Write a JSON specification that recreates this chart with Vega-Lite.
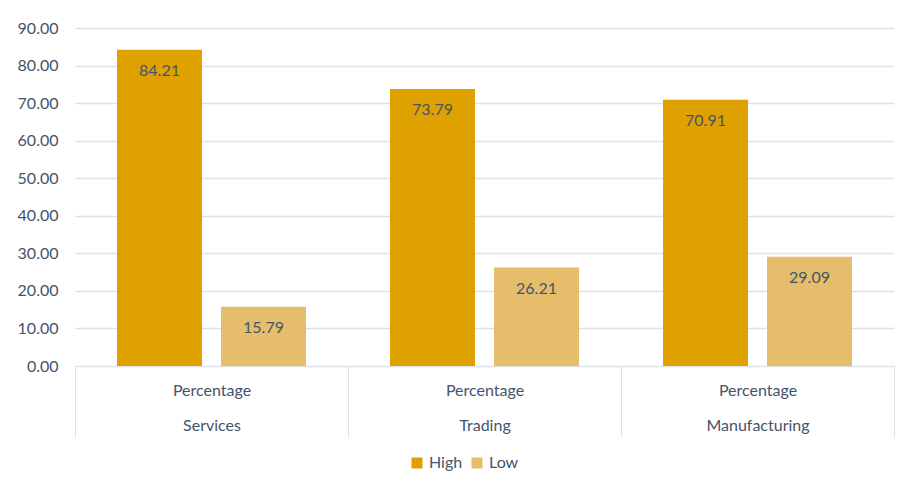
{
  "$schema": "https://vega.github.io/schema/vega-lite/v6.json",
  "width": 819,
  "height": 338,
  "autosize": {"type": "none"},
  "padding": {"left": 75, "top": 28, "right": 15, "bottom": 124},
  "background": "white",
  "data": {
    "values": [
      {"sector": "Services", "level": "High", "value": 84.21},
      {"sector": "Services", "level": "Low", "value": 15.79},
      {"sector": "Trading", "level": "High", "value": 73.79},
      {"sector": "Trading", "level": "Low", "value": 26.21},
      {"sector": "Manufacturing", "level": "High", "value": 70.91},
      {"sector": "Manufacturing", "level": "Low", "value": 29.09}
    ]
  },
  "encoding": {
    "x": {
      "field": "sector",
      "type": "nominal",
      "sort": ["Services", "Trading", "Manufacturing"],
      "scale": {"paddingInner": 0, "paddingOuter": 0},
      "axis": {
        "title": null,
        "labelAngle": 0,
        "labelExpr": "datum.label ? ['Percentage', datum.label] : ''",
        "labelLineHeight": 35,
        "labelPadding": -47,
        "labelBaseline": "middle",
        "tickBand": "extent",
        "tickSize": 71,
        "tickColor": "#DEE2E8",
        "domainColor": "#DEE2E8",
        "labelFont": "Lato",
        "labelFontSize": 16,
        "labelColor": "#44546A"
      }
    },
    "xOffset": {
      "field": "level",
      "type": "nominal",
      "scale": {"paddingInner": 0.183, "paddingOuter": 0.404}
    },
    "y": {
      "field": "value",
      "type": "quantitative",
      "scale": {"domain": [0, 90]},
      "axis": {
        "title": null,
        "values": [0, 10, 20, 30, 40, 50, 60, 70, 80, 90],
        "format": ".2f",
        "domain": false,
        "ticks": false,
        "labelPadding": 17,
        "labelFont": "Lato",
        "labelFontSize": 16,
        "labelColor": "#44546A",
        "gridColor": "#DEE2E8",
        "gridWidth": 1.5
      }
    }
  },
  "layer": [
    {
      "mark": {"type": "bar"},
      "encoding": {
        "color": {
          "field": "level",
          "type": "nominal",
          "scale": {"domain": ["High", "Low"], "range": ["#DFA100", "#E5BD6B"]},
          "legend": {
            "title": null,
            "orient": "none",
            "direction": "horizontal",
            "legendX": 334,
            "legendY": 427,
            "symbolType": "square",
            "symbolSize": 121,
            "symbolStrokeWidth": 0,
            "labelFont": "Lato",
            "labelFontSize": 16,
            "labelColor": "#44546A",
            "columnPadding": 6,
            "labelOffset": 4
          }
        }
      }
    },
    {
      "mark": {"type": "text", "baseline": "middle", "dy": 21, "font": "Lato", "fontSize": 16, "color": "#44546A"},
      "encoding": {
        "text": {"field": "value", "type": "quantitative", "format": ".2f"}
      }
    }
  ],
  "config": {"view": {"stroke": null}}
}
